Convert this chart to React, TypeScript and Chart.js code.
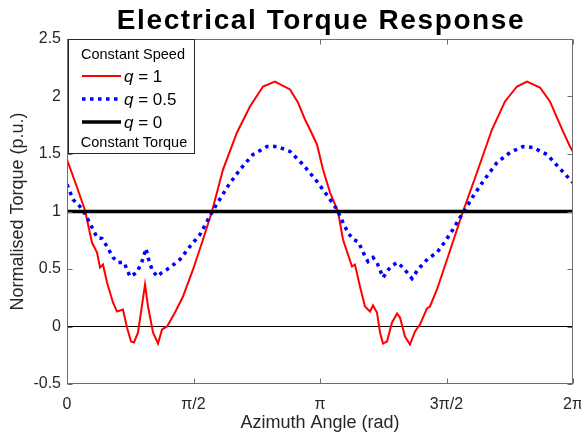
import { useEffect, useRef } from 'react';
import { Chart, registerables } from 'chart.js';

Chart.register(...registerables);

const PI = Math.PI;
const FONT = '"Liberation Sans", Arial, Helvetica, sans-serif';

const titleText = 'Electrical Torque Response';
const xAxisTitle = 'Azimuth Angle (rad)';
const yAxisTitle = 'Normalised Torque (p.u.)';

const xTickValues = [0, PI / 2, PI, (3 * PI) / 2, 2 * PI];
const xTickLabels = ['0', 'π/2', 'π', '3π/2', '2π'];
const yTickValues = [-0.5, 0, 0.5, 1, 1.5, 2, 2.5];
const yTickLabels = ['-0.5', '0', '0.5', '1', '1.5', '2', '2.5'];

const legendTitle = 'Constant Speed';
const legendFooter = 'Constant Torque';
const seriesNames = ['q = 1', 'q = 0.5', 'q = 0'];

// q = 1 (red)
const redX = [0, 0.112, 0.224, 0.310, 0.373, 0.410, 0.447, 0.497, 0.571, 0.621, 0.695, 0.745, 0.795, 0.832, 0.882, 0.969, 1.006, 1.068, 1.130, 1.180, 1.242, 1.341, 1.440, 1.565, 1.689, 1.800, 1.937, 2.111, 2.272, 2.434, 2.583, 2.769, 2.868, 2.955, 3.017, 3.104, 3.179, 3.266, 3.365, 3.427, 3.489, 3.539, 3.576, 3.638, 3.700, 3.762, 3.800, 3.849, 3.887, 3.924, 3.973, 4.036, 4.098, 4.135, 4.197, 4.259, 4.321, 4.383, 4.470, 4.507, 4.594, 4.719, 4.843, 4.917, 5.091, 5.277, 5.439, 5.588, 5.712, 5.873, 5.997, 6.084, 6.159, 6.246, 6.283];
const redY = [1.452, 1.235, 1.009, 0.730, 0.643, 0.513, 0.539, 0.383, 0.209, 0.130, 0.148, -0.009, -0.130, -0.139, -0.052, 0.365, 0.174, -0.052, -0.148, -0.026, 0.000, 0.122, 0.261, 0.496, 0.757, 1.000, 1.365, 1.687, 1.913, 2.087, 2.130, 2.061, 1.948, 1.800, 1.713, 1.583, 1.365, 1.165, 1.000, 0.757, 0.626, 0.522, 0.539, 0.348, 0.174, 0.130, 0.183, 0.122, -0.052, -0.148, -0.130, 0.035, 0.113, 0.078, -0.087, -0.157, -0.043, 0.017, 0.157, 0.174, 0.322, 0.583, 0.843, 1.000, 1.339, 1.713, 1.957, 2.087, 2.130, 2.078, 1.957, 1.817, 1.696, 1.565, 1.520];

// q = 0.5 (blue dotted)
const blueX = [0, 0.075, 0.161, 0.236, 0.298, 0.373, 0.435, 0.497, 0.571, 0.633, 0.708, 0.782, 0.869, 0.931, 0.981, 1.006, 1.055, 1.118, 1.180, 1.279, 1.403, 1.527, 1.651, 1.751, 1.813, 1.987, 2.148, 2.310, 2.483, 2.608, 2.769, 2.930, 3.104, 3.241, 3.353, 3.427, 3.489, 3.551, 3.613, 3.663, 3.700, 3.738, 3.800, 3.849, 3.924, 4.011, 4.098, 4.172, 4.284, 4.358, 4.483, 4.594, 4.694, 4.793, 4.880, 4.942, 5.041, 5.166, 5.340, 5.501, 5.662, 5.786, 5.960, 6.097, 6.246, 6.283];
const blueY = [1.235, 1.104, 1.043, 0.965, 0.878, 0.774, 0.765, 0.696, 0.600, 0.557, 0.557, 0.435, 0.470, 0.565, 0.678, 0.600, 0.496, 0.435, 0.470, 0.513, 0.583, 0.696, 0.800, 0.930, 1.009, 1.209, 1.365, 1.496, 1.565, 1.565, 1.522, 1.409, 1.261, 1.130, 1.017, 0.904, 0.817, 0.757, 0.739, 0.670, 0.609, 0.565, 0.600, 0.557, 0.426, 0.513, 0.557, 0.513, 0.417, 0.496, 0.591, 0.643, 0.739, 0.843, 0.948, 1.017, 1.130, 1.261, 1.426, 1.513, 1.565, 1.557, 1.496, 1.391, 1.278, 1.252];

// q = 0 (black, constant)
const blackX = [0, 2 * PI];
const blackY = [1, 1];

// zero reference line
const zeroX = [0, 2 * PI];
const zeroY = [0, 0];

const pts = (xs: number[], ys: number[]) => xs.map((x, i) => ({ x, y: ys[i] }));

const titlePlugin = {
  id: 'customTitle',
  afterDraw(chart: any) {
    const { ctx, chartArea } = chart;
    ctx.save();
    ctx.font = `bold 28px ${FONT}`;
    ctx.fillStyle = '#000';
    ctx.textAlign = 'center';
    ctx.textBaseline = 'alphabetic';
    try { (ctx as any).letterSpacing = '1.6px'; } catch (e) {}
    ctx.fillText(titleText, (chartArea.left + chartArea.right) / 2 + 1, 29);
    ctx.restore();
  },
};

const framePlugin = {
  id: 'frame',
  afterDatasetsDraw(chart: any) {
    const { ctx, chartArea, scales } = chart;
    const l = Math.round(chartArea.left) + 0.5;
    const r = Math.round(chartArea.right) - 0.5;
    const t = Math.round(chartArea.top) + 0.5;
    const b = Math.round(chartArea.bottom) - 0.5;
    ctx.save();
    ctx.strokeStyle = '#6e6e6e';
    ctx.lineWidth = 1;
    ctx.strokeRect(l, t, r - l, b - t);
    const tl = 5;
    ctx.beginPath();
    xTickValues.forEach((v) => {
      const px = Math.round(scales.x.getPixelForValue(v)) + 0.5;
      ctx.moveTo(px, b); ctx.lineTo(px, b - tl);
      ctx.moveTo(px, t); ctx.lineTo(px, t + tl);
    });
    yTickValues.forEach((v) => {
      const py = Math.round(scales.y.getPixelForValue(v)) + 0.5;
      ctx.moveTo(l, py); ctx.lineTo(l + tl, py);
      ctx.moveTo(r, py); ctx.lineTo(r - tl, py);
    });
    ctx.stroke();
    ctx.restore();
  },
};

const legendPlugin = {
  id: 'customLegend',
  afterDraw(chart: any) {
    const { ctx } = chart;
    const bx = 68.5, by = 39.5, bw = 126, bh = 114;
    ctx.save();
    ctx.fillStyle = '#fff';
    ctx.fillRect(bx, by, bw, bh);
    ctx.strokeStyle = '#262626';
    ctx.lineWidth = 1;
    ctx.strokeRect(bx, by, bw, bh);
    ctx.fillStyle = '#000';
    ctx.textBaseline = 'alphabetic';
    ctx.textAlign = 'center';
    ctx.font = `14.5px ${FONT}`;
    ctx.fillText(legendTitle, 133, 59);
    const rows = [76, 99, 122];
    chart.data.datasets.slice(0, 3).forEach((ds: any, i: number) => {
      const y = rows[i];
      ctx.save();
      ctx.strokeStyle = ds.borderColor;
      ctx.lineWidth = ds.borderWidth;
      ctx.setLineDash(ds.borderDash || []);
      ctx.beginPath();
      ctx.moveTo(82, y);
      ctx.lineTo(121, y);
      ctx.stroke();
      ctx.restore();
      const name: string = seriesNames[i];
      ctx.textAlign = 'left';
      ctx.font = `italic 17px ${FONT}`;
      ctx.fillText(name[0], 124, y + 6);
      const w = ctx.measureText(name[0]).width;
      ctx.font = `17px ${FONT}`;
      ctx.fillText(name.slice(1), 124 + w, y + 6);
    });
    ctx.textAlign = 'center';
    ctx.font = `14.5px ${FONT}`;
    ctx.fillText(legendFooter, 134, 147);
    ctx.restore();
  },
};

export default function App() {
  const ref = useRef<HTMLCanvasElement | null>(null);
  useEffect(() => {
    if (!ref.current) return;
    const chart = new Chart(ref.current, {
      type: 'line',
      data: {
        datasets: [
          { label: seriesNames[0], data: pts(redX, redY), borderColor: '#ff0000', borderWidth: 2, pointRadius: 0, tension: 0, order: 3 },
          { label: seriesNames[1], data: pts(blueX, blueY), borderColor: '#0000ff', borderWidth: 3.5, borderDash: [3.5, 4.5], pointRadius: 0, tension: 0, order: 2 },
          { label: seriesNames[2], data: pts(blackX, blackY), borderColor: '#000000', borderWidth: 3.5, pointRadius: 0, tension: 0, order: 1 },
          { label: 'zero', data: pts(zeroX, zeroY), borderColor: '#000000', borderWidth: 1, pointRadius: 0, tension: 0, order: 4 },
        ] as any,
      },
      options: {
        animation: false,
        responsive: false,
        devicePixelRatio: 1,
        parsing: false as any,
        layout: { padding: { top: 39, right: 8, left: 0, bottom: 0 } },
        plugins: { legend: { display: false }, title: { display: false }, tooltip: { enabled: false } },
        scales: {
          x: {
            type: 'linear',
            min: 0,
            max: 2 * PI,
            afterBuildTicks: (s: any) => { s.ticks = xTickValues.map((v) => ({ value: v })); },
            afterFit: (s: any) => { s.height = 57; s.paddingLeft = 0; s.paddingRight = 0; },
            ticks: {
              autoSkip: false,
              maxRotation: 0,
              padding: 11,
              color: '#262626',
              font: { family: FONT, size: 16 },
              callback: (v: any) => {
                const i = xTickValues.findIndex((t) => Math.abs(t - Number(v)) < 1e-6);
                return i >= 0 ? xTickLabels[i] : '';
              },
            },
            grid: { display: false, drawTicks: false },
            border: { display: false },
            title: { display: true, text: xAxisTitle, color: '#262626', font: { family: FONT, size: 18 }, padding: { top: 0, bottom: 7 } },
          },
          y: {
            type: 'linear',
            min: -0.5,
            max: 2.5,
            afterBuildTicks: (s: any) => { s.ticks = yTickValues.map((v) => ({ value: v })); },
            afterFit: (s: any) => { s.width = 67; s.paddingTop = 0; s.paddingBottom = 0; },
            ticks: {
              autoSkip: false,
              padding: 6,
              color: '#262626',
              font: { family: FONT, size: 16 },
              callback: (v: any) => {
                const i = yTickValues.findIndex((t) => Math.abs(t - Number(v)) < 1e-6);
                return i >= 0 ? yTickLabels[i] : '';
              },
            },
            grid: { display: false, drawTicks: false },
            border: { display: false },
            title: { display: true, text: yAxisTitle, color: '#262626', font: { family: FONT, size: 18 }, padding: { top: 7, bottom: 0 } },
          },
        },
      } as any,
      plugins: [framePlugin, legendPlugin, titlePlugin],
    });
    return () => chart.destroy();
  }, []);
  return (
    <div style={{ position: 'absolute', left: 0, top: 0, width: 581, height: 441, background: '#fff' }}>
      <canvas ref={ref} width={581} height={441} />
    </div>
  );
}
